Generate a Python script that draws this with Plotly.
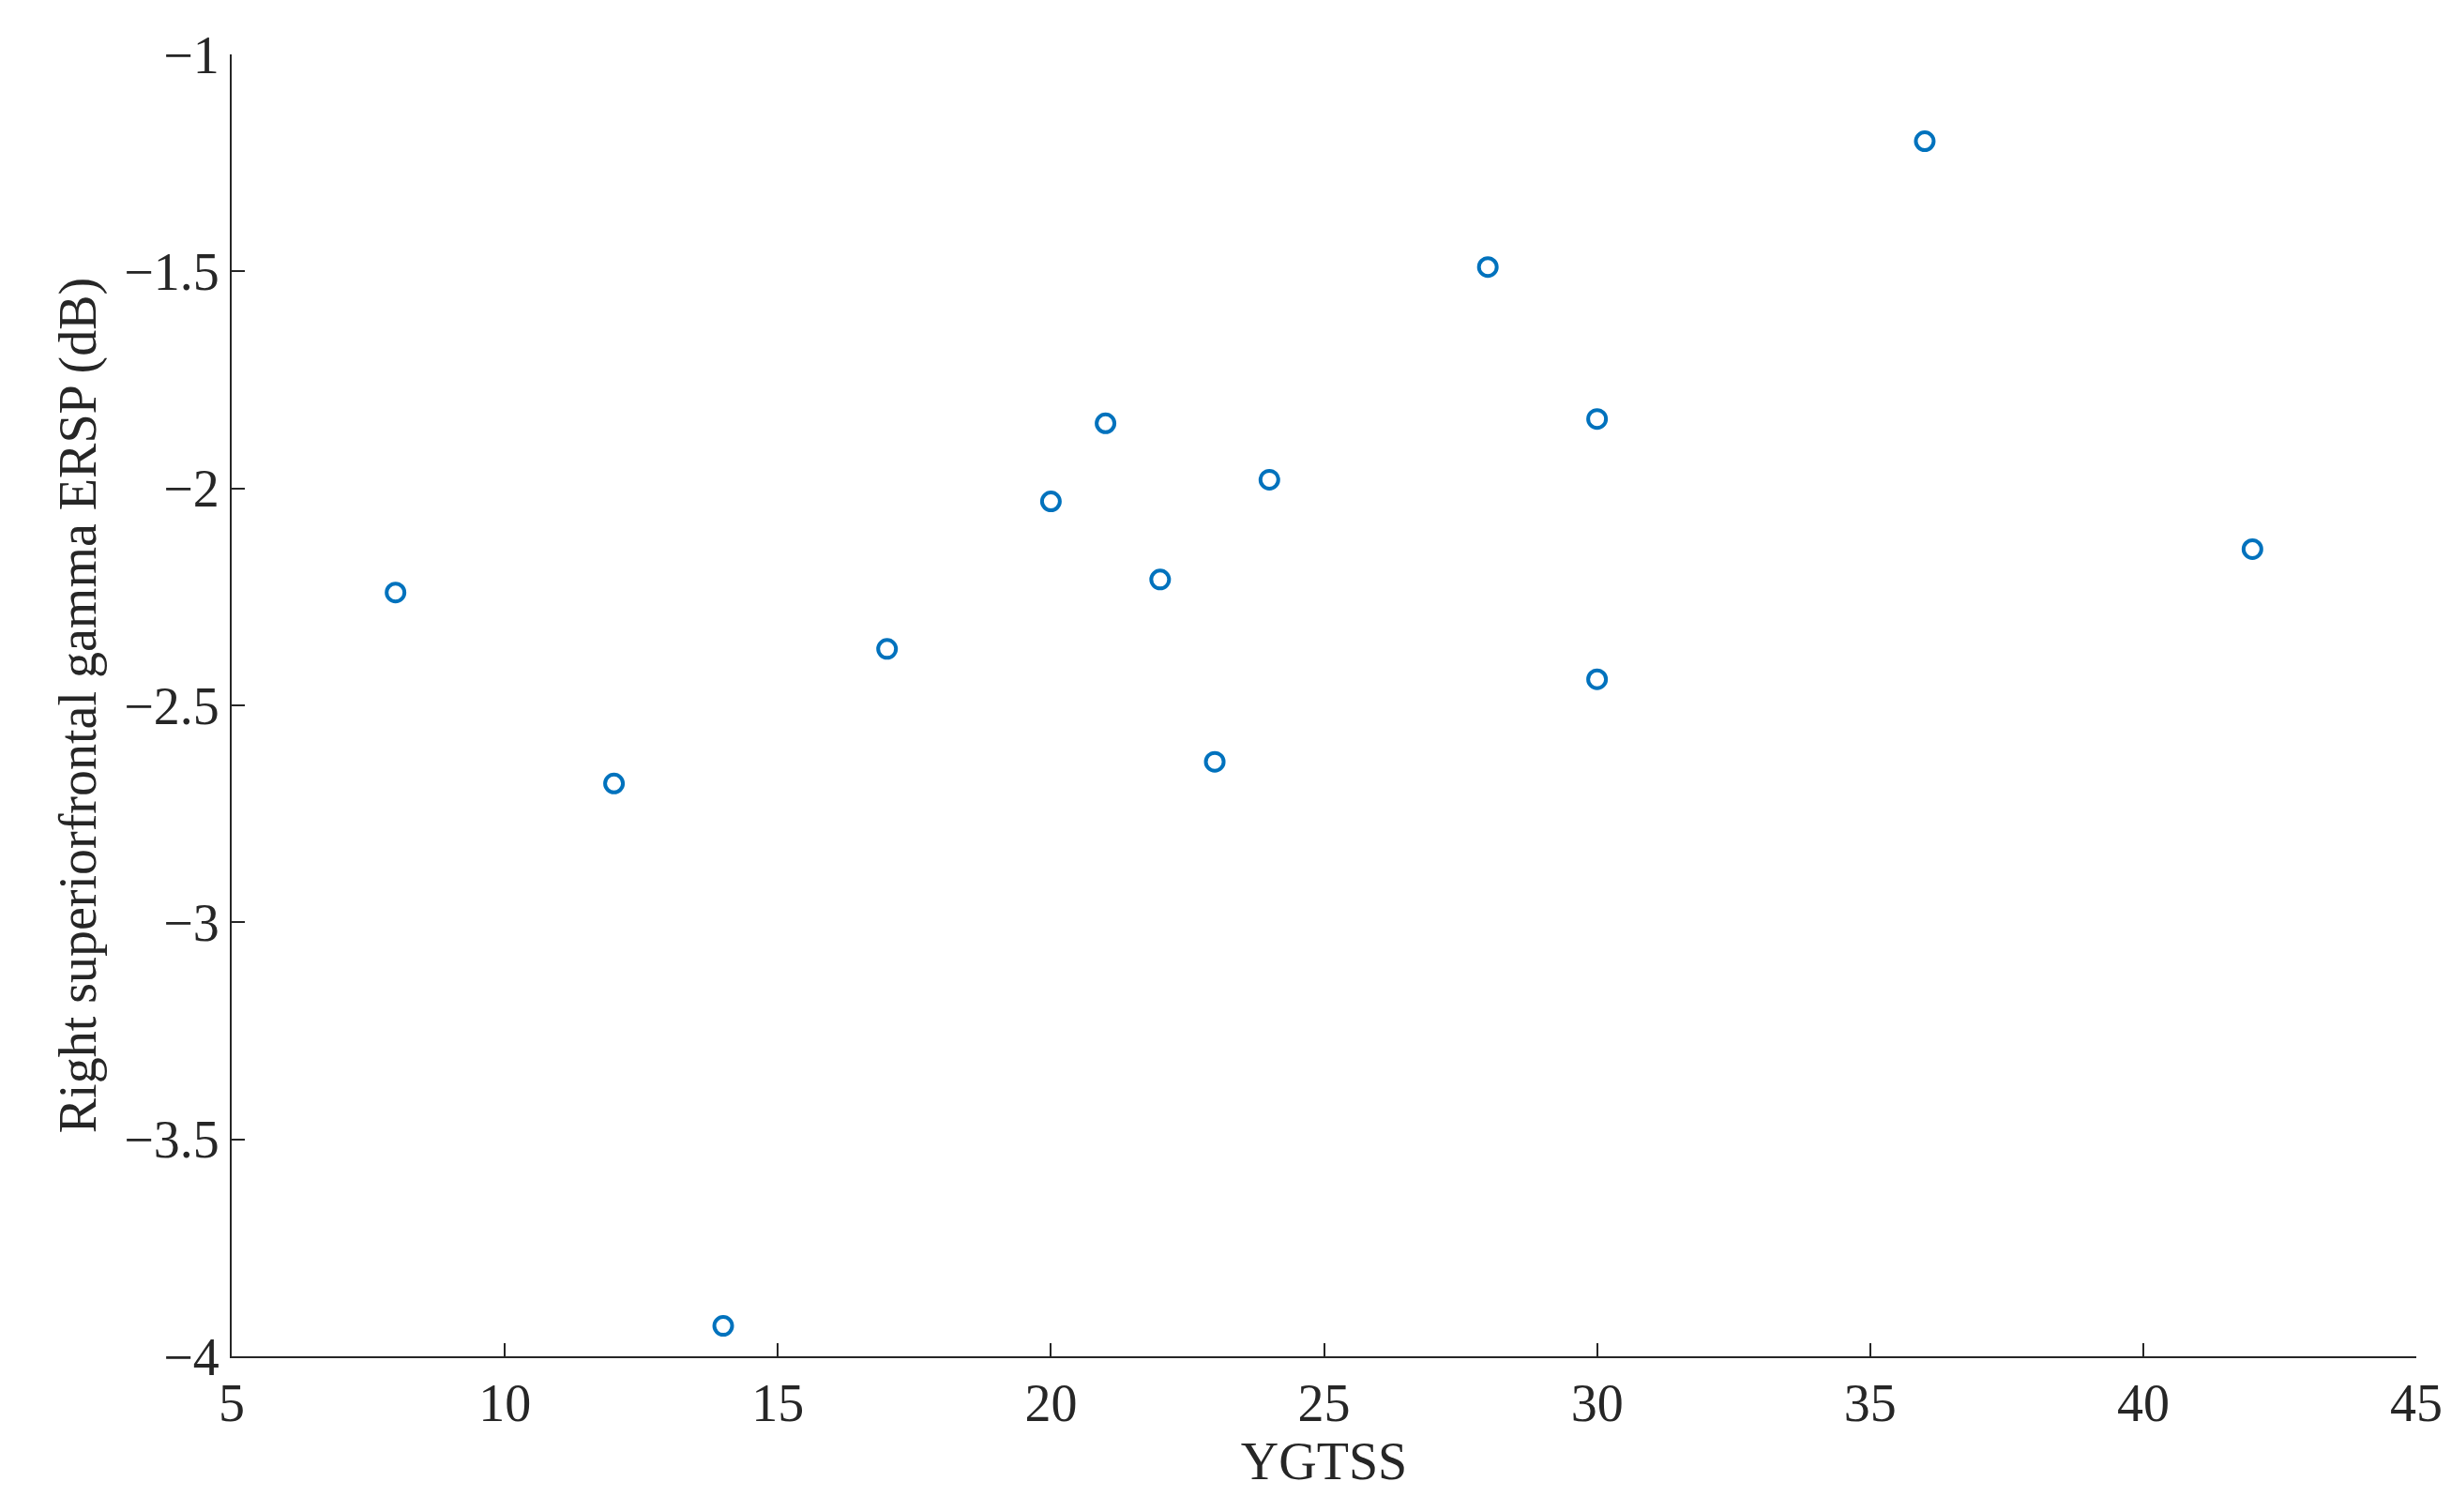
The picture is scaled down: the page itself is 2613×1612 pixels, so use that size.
import plotly.graph_objects as go

ygtss = [8, 12, 14, 17, 20, 21, 22, 23, 24, 28, 30, 30, 36, 42]
ersp = [-2.24, -2.68, -3.93, -2.37, -2.03, -1.85, -2.21, -2.63, -1.98, -1.49, -1.84, -2.44, -1.20, -2.14]
x_ticks = [5, 10, 15, 20, 25, 30, 35, 40, 45]
y_ticks = [-4, -3.5, -3, -2.5, -2, -1.5, -1]
y_labels = ["\u22124", "\u22123.5", "\u22123", "\u22122.5", "\u22122", "\u22121.5", "\u22121"]

fig = go.Figure(go.Scatter(
    x=ygtss, y=ersp, mode="markers",
    marker=dict(symbol="circle-open", size=19, color="#0072BD", line=dict(width=4, color="#0072BD")),
))
font = dict(family="Liberation Serif, DejaVu Serif, serif", size=56, color="#262626")
axis = dict(showline=True, linecolor="#262626", linewidth=2, ticks="inside", ticklen=14,
            tickwidth=2, tickcolor="#262626", showgrid=False, zeroline=False, tickfont=font, mirror=False)
fig.update_layout(
    width=2613, height=1612, plot_bgcolor="white", paper_bgcolor="white",
    margin=dict(l=239, r=45, t=50, b=174), showlegend=False, font=font,
    xaxis=dict(axis, range=[5, 45], tickvals=x_ticks, title=dict(text="YGTSS", font=font, standoff=12)),
    yaxis=dict(axis, range=[-4, -1], tickvals=y_ticks, ticktext=y_labels,
               title=dict(text="Right superiorfrontal gamma ERSP (dB)", font=font, standoff=12)),
)
fig.write_html("out.html")
